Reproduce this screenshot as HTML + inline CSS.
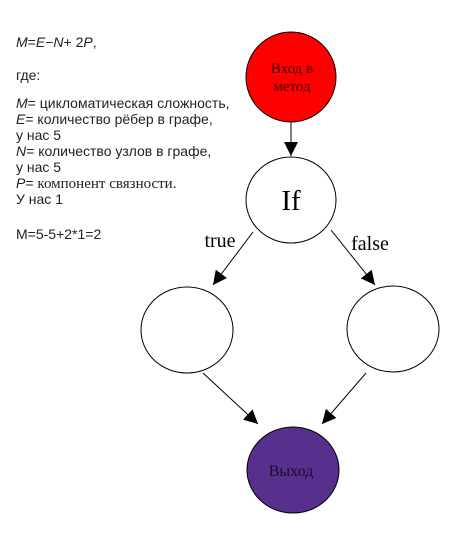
<!DOCTYPE html>
<html><head><meta charset="utf-8"><style>
html,body{margin:0;padding:0;background:#fff;width:471px;height:534px;overflow:hidden}
</style></head><body>
<svg width="471" height="534" xmlns="http://www.w3.org/2000/svg">
<defs>
<marker id="a" viewBox="0 0 10 10" refX="10" refY="5" markerWidth="14" markerHeight="14" markerUnits="userSpaceOnUse" orient="auto">
<path d="M0,0 L10,5 L0,10 z" fill="#000"/></marker>
</defs>
<g font-family="Liberation Sans, sans-serif" font-size="14" fill="#222">
<text x="16" y="47"><tspan font-style="italic">M</tspan>=<tspan font-style="italic">E</tspan>−<tspan font-style="italic">N</tspan>+ 2<tspan font-style="italic">P</tspan>,</text>
<text x="16" y="80">где:</text>
<text x="16" y="108"><tspan font-style="italic">M</tspan>= цикломатическая сложность,</text>
<text x="16" y="124"><tspan font-style="italic">E</tspan>= количество рёбер в графе,</text>
<text x="16" y="140">у нас 5</text>
<text x="16" y="156"><tspan font-style="italic">N</tspan>= количество узлов в графе,</text>
<text x="16" y="172">у нас 5</text>
<text x="16" y="188"><tspan font-style="italic">P</tspan>= <tspan font-family="Liberation Serif, serif" font-size="15">компонент связности.</tspan></text>
<text x="16" y="204">У нас 1</text>
<text x="16" y="239">M=5-5+2*1=2</text>
</g>
<g stroke="#000" stroke-width="1">
<ellipse cx="291" cy="77" rx="45" ry="45" fill="#ff0000"/>
<ellipse cx="291" cy="200" rx="45" ry="43" fill="#fff"/>
<ellipse cx="187" cy="330" rx="46" ry="43" fill="#fff"/>
<ellipse cx="393" cy="329" rx="46" ry="43" fill="#fff"/>
<ellipse cx="293" cy="470" rx="46" ry="43" fill="#56308c"/>
<line x1="291" y1="122" x2="291" y2="156" marker-end="url(#a)"/>
<line x1="253" y1="232" x2="213" y2="285" marker-end="url(#a)"/>
<line x1="331" y1="230" x2="375" y2="285" marker-end="url(#a)"/>
<line x1="203" y1="373" x2="258" y2="424" marker-end="url(#a)"/>
<line x1="366" y1="373" x2="322" y2="424" marker-end="url(#a)"/>
</g>
<g font-family="Liberation Serif, serif" text-anchor="middle" fill="#000">
<text x="292" y="73" font-size="15" fill="#400">Вход в</text>
<text x="292" y="91" font-size="15" fill="#400">метод</text>
<text x="291" y="210" font-size="29">If</text>
<text x="220" y="247" font-size="20">true</text>
<text x="370" y="250" font-size="20">false</text>
<text x="291" y="476" font-size="16" fill="#1a0a33">Выход</text>
</g>
</svg>
</body></html>
